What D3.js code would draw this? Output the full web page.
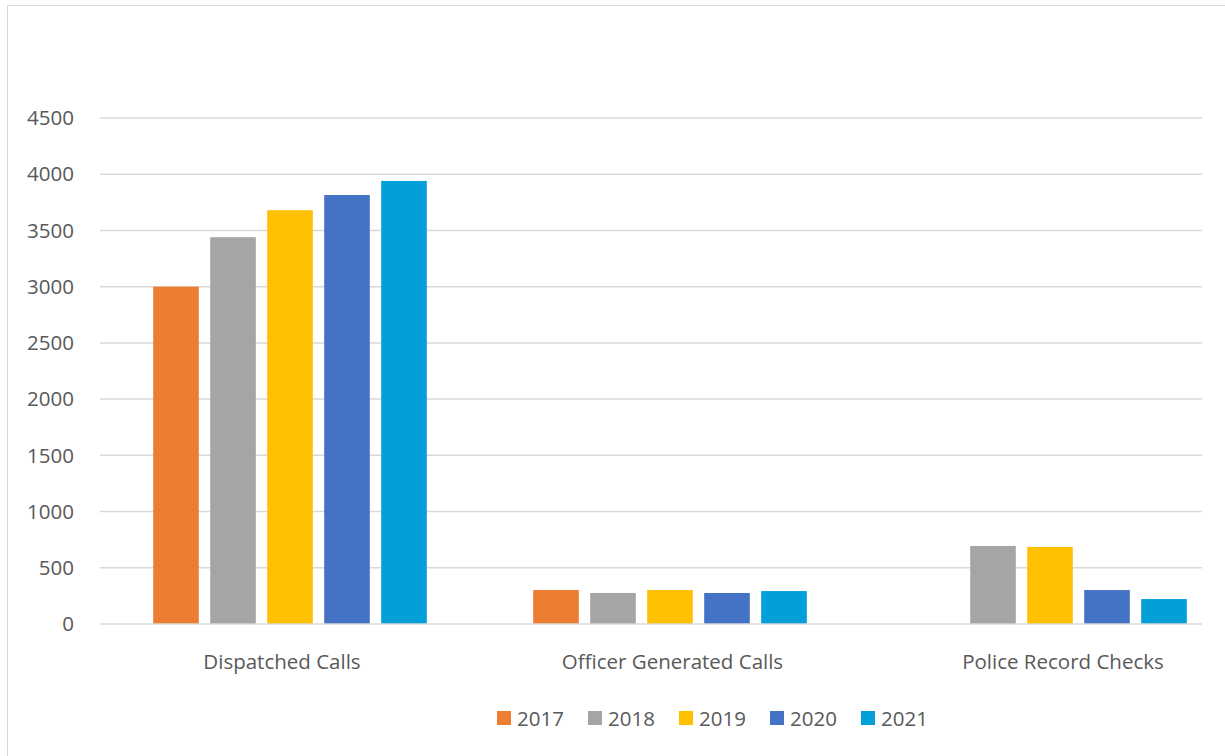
<!DOCTYPE html>
<html>
<head>
<meta charset="utf-8">
<script src="https://cdn.jsdelivr.net/npm/d3@7"></script>
<style>
  body { margin: 0; background: #fff; }
  svg { display: block; font-family: "Open Sans", "Liberation Sans", sans-serif; }
</style>
</head>
<body>
<svg id="chart"></svg>
<script>
"use strict";

const width = 1225
const height = 756

const categories = ["Dispatched Calls", "Officer Generated Calls", "Police Record Checks"]
const years = ["2017", "2018", "2019", "2020", "2021"]
const yearColors = ["#ED7D31", "#A5A5A5", "#FFC000", "#4472C4", "#029FD9"]

// values per year, in order of categories
const values2017 = [3000, 302, 0]
const values2018 = [3440, 276, 694]
const values2019 = [3680, 302, 685]
const values2020 = [3815, 276, 302]
const values2021 = [3940, 293, 222]
const series = [values2017, values2018, values2019, values2020, values2021]

const yTicks = [0, 500, 1000, 1500, 2000, 2500, 3000, 3500, 4000, 4500]

const svg = d3.select("#chart")
    .attr("width", width)
    .attr("height", height)

// chart frame
svg.append("rect")
    .attr("x", 7.5).attr("y", 5.5)
    .attr("width", 1240).attr("height", 770)
    .attr("fill", "none")
    .attr("stroke", "#d9d9d9")
    .attr("stroke-width", 1)

const y = d3.scaleLinear().domain([0, 4500]).range([624, 118])

const x0 = d3.scaleBand()
    .domain(categories)
    .range([100, 1240])
    .paddingInner(0.28)
    .paddingOuter(0.14)

const x1 = d3.scaleBand()
    .domain(years)
    .range([0, x0.bandwidth()])
    .paddingInner(0.2)

// category labels sit on a slightly different spacing than the bars
const xLabel = d3.scalePoint()
    .domain(categories)
    .range([282, 1063])

const color = d3.scaleOrdinal().domain(years).range(yearColors)

// gridlines
svg.append("g")
    .selectAll("line")
    .data(yTicks.filter(d => d > 0))
    .join("line")
    .attr("x1", 100).attr("x2", 1202)
    .attr("y1", d => y(d)).attr("y2", d => y(d))
    .attr("stroke", "#d9d9d9")
    .attr("stroke-width", 1.5)

// tick labels
svg.append("g")
    .selectAll("text")
    .data(yTicks)
    .join("text")
    .attr("x", 74)
    .attr("y", d => y(d))
    .attr("dy", "0.35em")
    .attr("text-anchor", "end")
    .attr("font-size", 20.5)
    .attr("fill", "#595959")
    .text(d => d)

// bars
const rows = []
series.forEach((vals, i) => {
    vals.forEach((v, j) => {
        rows.push({ year: years[i], category: categories[j], value: v })
    })
})

svg.append("g")
    .selectAll("rect")
    .data(rows.filter(d => d.value > 0))
    .join("rect")
    .attr("x", d => x0(d.category) + x1(d.year))
    .attr("y", d => y(d.value))
    .attr("width", x1.bandwidth())
    .attr("height", d => y(0) - y(d.value))
    .attr("fill", d => color(d.year))

// zero axis line on top
svg.append("line")
    .attr("x1", 100).attr("x2", 1202)
    .attr("y1", y(0)).attr("y2", y(0))
    .attr("stroke", "#d9d9d9")
    .attr("stroke-width", 1.5)

// category labels
svg.append("g")
    .selectAll("text")
    .data(categories)
    .join("text")
    .attr("x", d => xLabel(d))
    .attr("y", 662)
    .attr("dy", "0.35em")
    .attr("text-anchor", "middle")
    .attr("font-size", 20.5)
    .attr("fill", "#595959")
    .text(d => d)

// legend
const legendX = d3.scalePoint().domain(years).range([497, 861])

const legend = svg.append("g")
    .selectAll("g")
    .data(years)
    .join("g")
    .attr("transform", d => `translate(${legendX(d)},711)`)

legend.append("rect")
    .attr("width", 14).attr("height", 14)
    .attr("fill", d => color(d))

legend.append("text")
    .attr("x", 20)
    .attr("y", 8)
    .attr("dy", "0.35em")
    .attr("font-size", 20.5)
    .attr("fill", "#595959")
    .text(d => d)
</script>
</body>
</html>
